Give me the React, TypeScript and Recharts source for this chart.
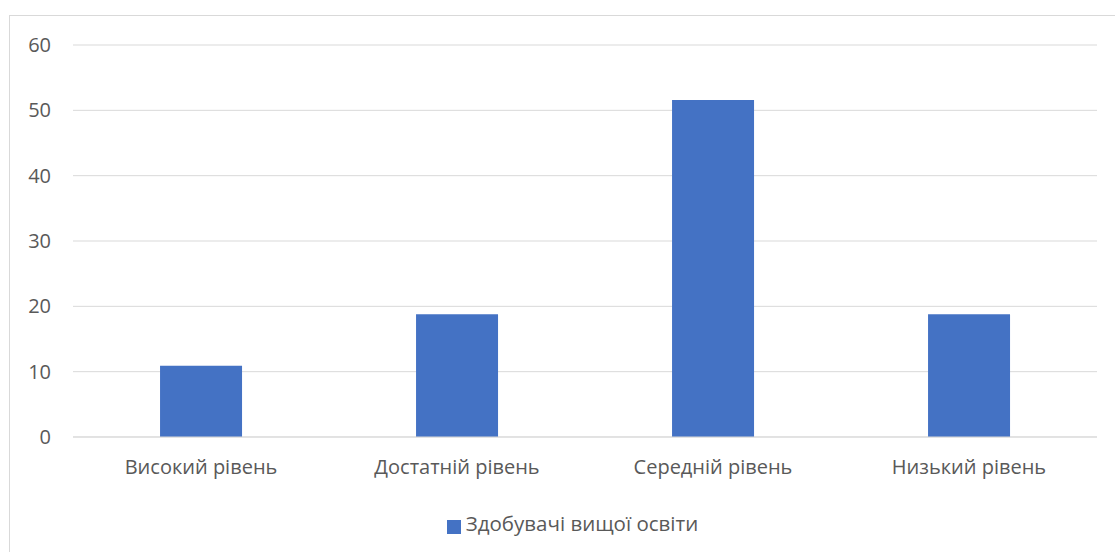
import { Bar, BarChart, CartesianGrid, Legend, XAxis, YAxis } from "recharts"

const levels = ['Високий рівень', 'Достатній рівень', 'Середній рівень', 'Низький рівень'];
const shares = [10.9, 18.8, 51.6, 18.8];
const yTicks = [0, 10, 20, 30, 40, 50, 60];
const seriesName = 'Здобувачі вищої освіти';

const data = levels.map((level, i) => ({ level, value: shares[i] }));

const font = '"Open Sans", sans-serif';
const textColor = '#595959';

const App = () => {
    return (
        <div style={{ position: 'absolute', left: 0, top: 0, width: 1115, height: 552, background: '#fff', fontFamily: font }}>
            <div style={{ position: 'absolute', left: 9, top: 15, right: 0, bottom: 0, borderTop: '1px solid #d9d9d9', borderLeft: '1px solid #d9d9d9' }} />
            <BarChart width={1115} height={552} data={data} barCategoryGap="34%"
                margin={{ top: 45, right: 18, bottom: 0, left: 0 }}>
                <CartesianGrid vertical={false} stroke="#d9d9d9" />
                <XAxis dataKey="level" height={75} tickLine={false} tickSize={0} tickMargin={23}
                    axisLine={{ stroke: '#d9d9d9' }} interval={0}
                    tick={{ fill: textColor, fontSize: 20, fontFamily: font }} />
                <YAxis width={73} domain={[0, 60]} ticks={yTicks} axisLine={false} tickLine={false}
                    tickSize={0} tickMargin={22} tick={{ fill: textColor, fontSize: 20, fontFamily: font }} />
                <Legend verticalAlign="bottom" height={40} iconType="square" iconSize={14}
                    wrapperStyle={{ paddingLeft: 58, bottom: 3, boxSizing: 'border-box' }}
                    formatter={(v) => <span style={{ color: textColor, fontSize: 20.5, fontFamily: font, marginLeft: 1 }}>{v}</span>} />
                <Bar dataKey="value" name={seriesName} fill="#4472c4" isAnimationActive={false} />
            </BarChart>
        </div>
    )
}

export default App
